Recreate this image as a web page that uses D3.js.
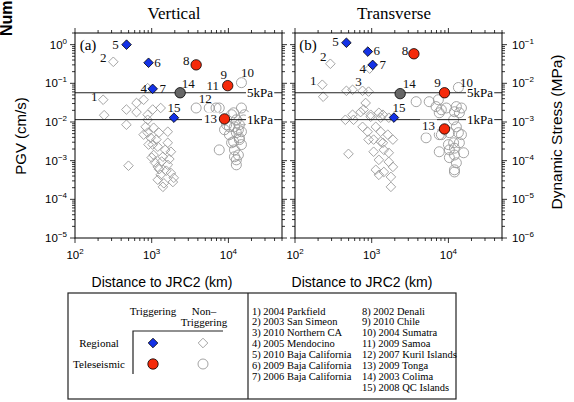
<!DOCTYPE html>
<html>
<head>
<meta charset="utf-8">
<script src="https://cdn.jsdelivr.net/npm/d3@7"></script>
<style>
body{margin:0;background:#fff;}
svg{display:block;}
</style>
</head>
<body>
<svg width="574" height="402"></svg>
<script>
// [distance to JRC2 (km), PGV (cm/s)]
var vertRegTrig = [[470,1.0],[910,0.34],[1030,0.072],[1950,0.0129]];
var vertTeleTrig = [[3800,0.30],[9800,0.087],[8900,0.012]];
var vertColima = [[2350,0.057]];
var vertRegNon = [[316,0.36],[233,0.0376],[240,0.015],[468,0.021],[468,0.0085],[634,0.031],[785,0.0376],[634,0.018],
	[886,0.0154],[886,0.0114],[1030,0.021],[1310,0.023],[886,0.075],[834,0.0075],[1060,0.0071],[785,0.0047],[970,0.0039],
	[1240,0.0053],[1620,0.0056],[886,0.0053],[910,0.0026],[1200,0.0023],[1620,0.0029],[1150,0.0035],[1030,0.0026],
	[1780,0.0017],[1060,0.0014],[1400,0.00126],[1500,0.0019],[498,0.00074],[1200,0.00069],[1620,0.00078],[1350,0.00095],
	[1100,0.0009],[1700,0.0011],[1250,0.0006],[1550,0.00055],[1000,0.0012],[1310,0.00043],[1780,0.00048],[1440,0.00026],
	[1200,0.00032],[1890,0.00028],[1400,0.00021],[1940,0.00036]];
var vertTeleNon = [[14800,0.104],[3800,0.023],[5620,0.023],[7600,0.023],[11700,0.0173],[12700,0.0114],[14800,0.023],
	[16200,0.0154],[11000,0.0154],[8900,0.0063],[10300,0.0075],[12000,0.0075],[13900,0.0085],[10300,0.0047],[12700,0.0053],
	[14800,0.0056],[11700,0.0031],[13900,0.0035],[7600,0.0019],[12000,0.0019],[13500,0.0014],[12700,0.00105],[12700,0.00078],
	[13900,0.0039],[14800,0.0026],[11000,0.0029],[12000,0.00126],[13500,0.0063],[9500,0.0085],[15800,0.0113],[6900,0.023]];

var transRegTrig = [[468,1.12],[890,0.66],[1030,0.30],[1950,0.013]];
var transTeleTrig = [[3550,0.58],[8900,0.057],[8900,0.0066]];
var transColima = [[2350,0.054]];
var transRegNon = [[289,0.32],[227,0.092],[233,0.045],[468,0.064],[563,0.068],[760,0.064],[910,0.061],[940,0.24],
	[834,0.031],[563,0.0154],[716,0.018],[970,0.0154],[1240,0.0173],[1400,0.0154],[454,0.0114],[580,0.0114],[785,0.021],
	[970,0.0136],[1310,0.0129],[1670,0.0129],[760,0.0075],[886,0.0056],[1130,0.0075],[1310,0.0056],[1620,0.0047],
	[1890,0.0035],[1060,0.0035],[1400,0.0029],[910,0.0035],[1310,0.0031],[498,0.0015],[1060,0.0017],[1440,0.0019],
	[1670,0.0016],[1240,0.00105],[1670,0.00093],[1130,0.00058],[1440,0.00051],[1890,0.00069],[1240,0.00043],
	[1780,0.00038],[1780,0.00021]];
var transTeleNon = [[13500,0.078],[3800,0.0335],[5620,0.0335],[6900,0.025],[7400,0.0376],[7600,0.0173],[9400,0.023],
	[12700,0.025],[13900,0.0173],[8100,0.0207],[12000,0.0184],[14800,0.023],[5120,0.0039],[7600,0.0047],[11700,0.0114],
	[12700,0.0075],[10300,0.0053],[13500,0.0053],[11700,0.0029],[13900,0.0029],[7600,0.0017],[10300,0.0019],[12000,0.0014],
	[12700,0.00088],[12000,0.00058],[10000,0.0026],[12000,0.0021],[15800,0.0016],[10300,0.0012],[12000,0.00051],
	[14800,0.0047],[8100,0.0047]];

// event number -> the point it is written next to
var vertLabels = [["5",470,1.0],["2",316,0.36],["6",910,0.34],["4",1030,0.072],["7",1030,0.072],["8",3800,0.30],
	["9",9800,0.087],["11",9800,0.087],["10",14800,0.104],["14",2350,0.057],["12",5620,0.023],["15",1950,0.0129],
	["13",8900,0.012],["1",233,0.0376]];
var transLabels = [["5",468,1.12],["6",890,0.66],["2",289,0.32],["4",1030,0.30],["7",1030,0.30],["8",3550,0.58],
	["1",227,0.092],["3",760,0.064],["14",2350,0.054],["9",8900,0.057],["10",13500,0.078],["15",1950,0.013],
	["13",8900,0.0066]];

var stressLines = [["5kPa",0.057],["1kPa",0.0115]];
var xMajor = [2,3,4];
var pgvMajor = [0,-1,-2,-3,-4,-5];
var stressMajor = [-1,-2,-3,-4,-5,-6];
var events = ["1) 2004 Parkfield","2) 2003 San Simeon","3) 2010 Northern CA","4) 2005 Mendocino",
	"5) 2010 Baja California","6) 2009 Baja California","7) 2006 Baja California","8) 2002 Denali",
	"9) 2010 Chile","10) 2004 Sumatra","11) 2009 Samoa","12) 2007 Kuril Islands","13) 2009 Tonga",
	"14) 2003 Colima","15) 2008 QC Islands"];

var SERIF = "'Liberation Serif','Times New Roman',serif";
var SANS = "'Liberation Sans',Arial,sans-serif";

// label offsets in px from the point (centre of the number)
var offA = {"5":[-11,0],"2":[-10,-4],"6":[9,0],"4":[-9,0],"7":[10,0],"8":[-10,-4],"9":[-4,-11],"11":[-15,0],
	"10":[6,-10],"14":[8,-9],"12":[-4,-9],"15":[0,-10],"13":[-14,0],"1":[-9,-3]};
var offB = {"5":[-11,-1],"6":[9,-1],"2":[-7,-7],"4":[-10,4],"7":[10,0],"8":[-9,-3],"1":[-9,-4],"3":[-4,-9],
	"14":[9,-10],"9":[-7,-10],"10":[8,-5],"15":[5,-10],"13":[-16,-3]};

var svg = d3.select("svg");
var yTop = 33, yBot = 238;
var y = d3.scaleLog().domain([1e-5, 2]).range([yBot, yTop]);
var yS = d3.scaleLog().domain([1e-6, 0.2]).range([yBot, yTop]);

function diamond(r){ return "M0,"+(-r)+"L"+r+",0L0,"+r+"L"+(-r)+",0Z"; }

function powText(sel, e){
	sel.append("tspan").text("10");
	sel.append("tspan").attr("dy", -5).attr("font-size", 8).text(e < 0 ? "\u2212" + (-e) : e);
}

function isMajor(v){ var l = Math.log10(v); return Math.abs(l - Math.round(l)) < 1e-6; }

function drawPanel(o){
	var g = svg.append("g");
	var x = d3.scaleLog().domain([100, 5e4]).range([o.left, o.left + 207]);
	var L = x.range()[0], R = x.range()[1];

	// ticks, all outward
	var tk = g.append("g").attr("stroke", "#000").attr("stroke-width", 0.8);
	x.ticks().forEach(function(v){
		var n = isMajor(v) ? 5 : 3;
		tk.append("line").attr("x1", x(v)).attr("x2", x(v)).attr("y1", yTop).attr("y2", yTop - n);
		tk.append("line").attr("x1", x(v)).attr("x2", x(v)).attr("y1", yBot).attr("y2", yBot + n);
	});
	y.ticks().forEach(function(v){
		var n = isMajor(v) ? 5 : 3;
		tk.append("line").attr("x1", L).attr("x2", L - n).attr("y1", y(v)).attr("y2", y(v));
		if (!o.stress) tk.append("line").attr("x1", R).attr("x2", R + n).attr("y1", y(v)).attr("y2", y(v));
	});
	if (o.stress) yS.ticks().forEach(function(v){
		var n = isMajor(v) ? 5 : 3;
		tk.append("line").attr("x1", R).attr("x2", R + n).attr("y1", yS(v)).attr("y2", yS(v));
	});

	// tick labels
	xMajor.forEach(function(e){
		g.append("text").attr("x", x(Math.pow(10, e))).attr("y", 259).attr("text-anchor", "middle")
			.attr("font-family", SANS).attr("font-size", 11.5).call(powText, e);
	});
	if (o.pgvLabels) pgvMajor.forEach(function(e){
		g.append("text").attr("x", L - 8).attr("y", y(Math.pow(10, e)) + 4).attr("text-anchor", "end")
			.attr("font-family", SANS).attr("font-size", 11.5).call(powText, e);
	});
	if (o.stress) stressMajor.forEach(function(e){
		g.append("text").attr("x", R + 10).attr("y", yS(Math.pow(10, e)) + 4)
			.attr("font-family", SANS).attr("font-size", 11.5).call(powText, e);
	});

	// non triggering
	g.append("g").selectAll("path").data(o.regNon).enter().append("path")
		.attr("d", diamond(4.8))
		.attr("transform", function(d){ return "translate(" + x(d[0]) + "," + y(d[1]) + ")"; })
		.attr("fill", "none").attr("stroke", "#9a9a9a").attr("stroke-width", 0.9);
	g.append("g").selectAll("circle").data(o.teleNon).enter().append("circle")
		.attr("cx", function(d){ return x(d[0]); }).attr("cy", function(d){ return y(d[1]); })
		.attr("r", 5).attr("fill", "none").attr("stroke", "#9a9a9a").attr("stroke-width", 0.9);

	// 5kPa / 1kPa
	stressLines.forEach(function(s){
		var py = y(s[1]);
		g.append("line").attr("x1", L).attr("x2", R).attr("y1", py).attr("y2", py)
			.attr("stroke", "#222").attr("stroke-width", 1);
		var t = g.append("text").attr("x", R - 35).attr("y", py + 4.5).attr("font-family", SERIF)
			.attr("font-size", 13).text(s[0]);
		var b = t.node().getBBox();
		g.insert("rect", function(){ return t.node(); }).attr("x", b.x - 1).attr("y", b.y)
			.attr("width", b.width + 2).attr("height", b.height).attr("fill", "#fff");
	});

	// number labels
	o.labels.forEach(function(l){
		var off = o.off[l[0]];
		var t = g.append("text").attr("x", x(l[1]) + off[0]).attr("y", y(l[2]) + off[1] + 4.5)
			.attr("text-anchor", "middle").attr("font-family", SERIF).attr("font-size", 13)
			.attr("fill", "#111").text(l[0]);
		if (l[0] == "13") {
			var b = t.node().getBBox();
			g.insert("rect", function(){ return t.node(); }).attr("x", b.x - 2).attr("y", b.y + 1)
				.attr("width", b.width + 4).attr("height", b.height - 2).attr("fill", "#fff");
		}
	});

	// triggering
	g.append("g").selectAll("path").data(o.regTrig).enter().append("path")
		.attr("d", diamond(4.8))
		.attr("transform", function(d){ return "translate(" + x(d[0]) + "," + y(d[1]) + ")"; })
		.attr("fill", "#1432e6").attr("stroke", "#000").attr("stroke-width", 0.8);
	g.append("g").selectAll("circle").data(o.teleTrig).enter().append("circle")
		.attr("cx", function(d){ return x(d[0]); }).attr("cy", function(d){ return y(d[1]); })
		.attr("r", 5.2).attr("fill", "#f52a0a").attr("stroke", "#000").attr("stroke-width", 0.8);
	g.append("g").selectAll("circle").data(o.colima).enter().append("circle")
		.attr("cx", function(d){ return x(d[0]); }).attr("cy", function(d){ return y(d[1]); })
		.attr("r", 5.2).attr("fill", "#666").attr("stroke", "#000").attr("stroke-width", 0.8);

	g.append("rect").attr("x", L).attr("y", yTop).attr("width", R - L).attr("height", yBot - yTop)
		.attr("fill", "none").attr("stroke", "#000").attr("stroke-width", 1);

	g.append("text").attr("x", L + 13).attr("y", 50).attr("text-anchor", "middle").attr("font-family", SERIF)
		.attr("font-size", 15).text(o.tag);
	g.append("text").attr("x", o.titleX).attr("y", 19).attr("text-anchor", "middle").attr("font-family", SERIF)
		.attr("font-size", 17).text(o.title);
	g.append("text").attr("x", o.xlabX).attr("y", 287).attr("text-anchor", "middle").attr("font-family", SANS)
		.attr("font-size", 14).text("Distance to JRC2 (km)");
}

drawPanel({left:75, title:"Vertical", titleX:174, xlabX:162, tag:"(a)", pgvLabels:true, stress:false,
	regTrig:vertRegTrig, teleTrig:vertTeleTrig, colima:vertColima, regNon:vertRegNon, teleNon:vertTeleNon,
	labels:vertLabels, off:offA});
drawPanel({left:295, title:"Transverse", titleX:394, xlabX:362, tag:"(b)", pgvLabels:false, stress:true,
	regTrig:transRegTrig, teleTrig:transTeleTrig, colima:transColima, regNon:transRegNon, teleNon:transTeleNon,
	labels:transLabels, off:offB});

// axis titles
svg.append("text").attr("transform", "translate(26,136)rotate(-90)").attr("text-anchor", "middle")
	.attr("font-family", SANS).attr("font-size", 15).text("PGV (cm/s)");
svg.append("text").attr("transform", "translate(12,36)rotate(-90)").attr("font-family", SANS)
	.attr("font-weight", "bold").attr("font-size", 16).text("Number");
svg.append("text").attr("transform", "translate(562,132)rotate(-90)").attr("text-anchor", "middle")
	.attr("font-family", SANS).attr("font-size", 15.5).text("Dynamic Stress (MPa)");

// legend box
var lg = svg.append("g");
lg.append("rect").attr("x", 68).attr("y", 293).attr("width", 388).attr("height", 106)
	.attr("fill", "none").attr("stroke", "#222").attr("stroke-width", 1.2);
lg.append("line").attr("x1", 248).attr("x2", 248).attr("y1", 293).attr("y2", 399)
	.attr("stroke", "#222").attr("stroke-width", 1.2);
lg.append("path").attr("d", "M223,331H133V374").attr("fill", "none").attr("stroke", "#222").attr("stroke-width", 1.2);

var legTexts = [["Triggering",153,315],["Non\u2013",204,315],["Triggering",204,326],["Regional",99,347],["Teleseismic",99,368]];
legTexts.forEach(function(t){
	lg.append("text").attr("x", t[1]).attr("y", t[2]).attr("text-anchor", "middle").attr("font-family", SERIF)
		.attr("font-size", 11).text(t[0]);
});
lg.append("path").attr("d", diamond(4.8)).attr("transform", "translate(153,343)")
	.attr("fill", "#1432e6").attr("stroke", "#000").attr("stroke-width", 0.8);
lg.append("path").attr("d", diamond(4.8)).attr("transform", "translate(203,343)")
	.attr("fill", "none").attr("stroke", "#9a9a9a").attr("stroke-width", 0.9);
lg.append("circle").attr("cx", 153).attr("cy", 364).attr("r", 5.2)
	.attr("fill", "#f52a0a").attr("stroke", "#000").attr("stroke-width", 0.8);
lg.append("circle").attr("cx", 203).attr("cy", 364).attr("r", 5)
	.attr("fill", "none").attr("stroke", "#9a9a9a").attr("stroke-width", 0.9);

lg.selectAll("text.ev").data(events).enter().append("text").attr("class", "ev")
	.attr("x", function(d, i){ return i < 7 ? 252 : 362; })
	.attr("y", function(d, i){ return 314.5 + (i < 7 ? i : i - 7) * 10.87; })
	.attr("font-family", SERIF).attr("font-size", 10.5).text(function(d){ return d; });
</script>
</body>
</html>
